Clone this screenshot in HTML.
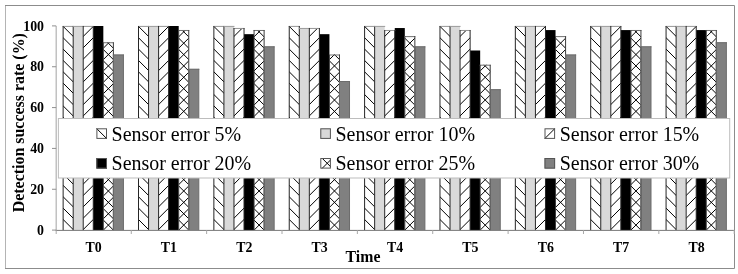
<!DOCTYPE html><html><head><meta charset="utf-8"><title>chart</title><style>html,body{margin:0;padding:0;background:#fff}svg{display:block}text{font-family:"Liberation Serif",serif;fill:#000}</style></head><body>
<svg width="738" height="274" viewBox="0 0 738 274">
<rect x="0" y="0" width="738" height="274" fill="#fff"/>
<path d="M5 5.5H734.5V268.5H5" fill="none" stroke="#8c8c8c" stroke-width="1"/><path d="M5.5 6V268" fill="none" stroke="#b4b4b4" stroke-width="1"/>
<rect x="63.14" y="26.00" width="10.05" height="204.20" fill="#fff"/>
<clipPath id="c1"><rect x="63.14" y="26.00" width="10.05" height="204.20"/></clipPath><g clip-path="url(#c1)" stroke="#000" stroke-width="1.0" fill="none"><path d="M61.14 228.86L75.19 242.91M61.14 217.50L75.19 231.55M61.14 206.14L75.19 220.19M61.14 194.78L75.19 208.83M61.14 183.42L75.19 197.47M61.14 172.06L75.19 186.11M61.14 160.70L75.19 174.75M61.14 149.34L75.19 163.39M61.14 137.98L75.19 152.03M61.14 126.62L75.19 140.67M61.14 115.26L75.19 129.31M61.14 103.90L75.19 117.95M61.14 92.54L75.19 106.59M61.14 81.18L75.19 95.23M61.14 69.82L75.19 83.87M61.14 58.46L75.19 72.51M61.14 47.10L75.19 61.15M61.14 35.74L75.19 49.79M61.14 24.38L75.19 38.43M61.14 13.02L75.19 27.07M61.14 1.66L75.19 15.71"/></g>
<rect x="73.19" y="26.00" width="10.05" height="204.20" fill="#d9d9d9"/>
<rect x="83.23" y="26.00" width="10.05" height="204.20" fill="#fff"/>
<clipPath id="c2"><rect x="83.23" y="26.00" width="10.05" height="204.20"/></clipPath><g clip-path="url(#c2)" stroke="#000" stroke-width="1.0" fill="none"><path d="M81.23 242.91L95.28 228.86M81.23 231.55L95.28 217.50M81.23 220.19L95.28 206.14M81.23 208.83L95.28 194.78M81.23 197.47L95.28 183.42M81.23 186.11L95.28 172.06M81.23 174.75L95.28 160.70M81.23 163.39L95.28 149.34M81.23 152.03L95.28 137.98M81.23 140.67L95.28 126.62M81.23 129.31L95.28 115.26M81.23 117.95L95.28 103.90M81.23 106.59L95.28 92.54M81.23 95.23L95.28 81.18M81.23 83.87L95.28 69.82M81.23 72.51L95.28 58.46M81.23 61.15L95.28 47.10M81.23 49.79L95.28 35.74M81.23 38.43L95.28 24.38M81.23 27.07L95.28 13.02M81.23 15.71L95.28 1.66"/></g>
<rect x="93.28" y="26.00" width="10.05" height="204.20" fill="#000"/>
<rect x="103.33" y="42.34" width="10.05" height="187.86" fill="#fff"/>
<clipPath id="c3"><rect x="103.33" y="42.34" width="10.05" height="187.86"/></clipPath><g clip-path="url(#c3)" stroke="#000" stroke-width="1.0" fill="none"><path d="M100.36 228.47L116.36 244.47M100.36 244.47L116.36 228.47M100.36 217.10L116.36 233.10M100.36 233.10L116.36 217.10M100.36 205.73L116.36 221.73M100.36 221.73L116.36 205.73M100.36 194.36L116.36 210.36M100.36 210.36L116.36 194.36M100.36 182.99L116.36 198.99M100.36 198.99L116.36 182.99M100.36 171.62L116.36 187.62M100.36 187.62L116.36 171.62M100.36 160.25L116.36 176.25M100.36 176.25L116.36 160.25M100.36 148.88L116.36 164.88M100.36 164.88L116.36 148.88M100.36 137.51L116.36 153.51M100.36 153.51L116.36 137.51M100.36 126.14L116.36 142.14M100.36 142.14L116.36 126.14M100.36 114.77L116.36 130.77M100.36 130.77L116.36 114.77M100.36 103.40L116.36 119.40M100.36 119.40L116.36 103.40M100.36 92.03L116.36 108.03M100.36 108.03L116.36 92.03M100.36 80.66L116.36 96.66M100.36 96.66L116.36 80.66M100.36 69.29L116.36 85.29M100.36 85.29L116.36 69.29M100.36 57.92L116.36 73.92M100.36 73.92L116.36 57.92M100.36 46.55L116.36 62.55M100.36 62.55L116.36 46.55M100.36 35.18L116.36 51.18M100.36 51.18L116.36 35.18M100.36 23.81L116.36 39.81M100.36 39.81L116.36 23.81"/></g>
<rect x="113.38" y="54.59" width="10.05" height="175.61" fill="#808080"/>
<rect x="138.50" y="26.00" width="10.05" height="204.20" fill="#fff"/>
<clipPath id="c4"><rect x="138.50" y="26.00" width="10.05" height="204.20"/></clipPath><g clip-path="url(#c4)" stroke="#000" stroke-width="1.0" fill="none"><path d="M136.50 228.86L150.55 242.91M136.50 217.50L150.55 231.55M136.50 206.14L150.55 220.19M136.50 194.78L150.55 208.83M136.50 183.42L150.55 197.47M136.50 172.06L150.55 186.11M136.50 160.70L150.55 174.75M136.50 149.34L150.55 163.39M136.50 137.98L150.55 152.03M136.50 126.62L150.55 140.67M136.50 115.26L150.55 129.31M136.50 103.90L150.55 117.95M136.50 92.54L150.55 106.59M136.50 81.18L150.55 95.23M136.50 69.82L150.55 83.87M136.50 58.46L150.55 72.51M136.50 47.10L150.55 61.15M136.50 35.74L150.55 49.79M136.50 24.38L150.55 38.43M136.50 13.02L150.55 27.07M136.50 1.66L150.55 15.71"/></g>
<rect x="148.55" y="26.00" width="10.05" height="204.20" fill="#d9d9d9"/>
<rect x="158.60" y="26.00" width="10.05" height="204.20" fill="#fff"/>
<clipPath id="c5"><rect x="158.60" y="26.00" width="10.05" height="204.20"/></clipPath><g clip-path="url(#c5)" stroke="#000" stroke-width="1.0" fill="none"><path d="M156.60 242.91L170.65 228.86M156.60 231.55L170.65 217.50M156.60 220.19L170.65 206.14M156.60 208.83L170.65 194.78M156.60 197.47L170.65 183.42M156.60 186.11L170.65 172.06M156.60 174.75L170.65 160.70M156.60 163.39L170.65 149.34M156.60 152.03L170.65 137.98M156.60 140.67L170.65 126.62M156.60 129.31L170.65 115.26M156.60 117.95L170.65 103.90M156.60 106.59L170.65 92.54M156.60 95.23L170.65 81.18M156.60 83.87L170.65 69.82M156.60 72.51L170.65 58.46M156.60 61.15L170.65 47.10M156.60 49.79L170.65 35.74M156.60 38.43L170.65 24.38M156.60 27.07L170.65 13.02M156.60 15.71L170.65 1.66"/></g>
<rect x="168.65" y="26.00" width="10.05" height="204.20" fill="#000"/>
<rect x="178.70" y="30.08" width="10.05" height="200.12" fill="#fff"/>
<clipPath id="c6"><rect x="178.70" y="30.08" width="10.05" height="200.12"/></clipPath><g clip-path="url(#c6)" stroke="#000" stroke-width="1.0" fill="none"><path d="M175.72 228.47L191.72 244.47M175.72 244.47L191.72 228.47M175.72 217.10L191.72 233.10M175.72 233.10L191.72 217.10M175.72 205.73L191.72 221.73M175.72 221.73L191.72 205.73M175.72 194.36L191.72 210.36M175.72 210.36L191.72 194.36M175.72 182.99L191.72 198.99M175.72 198.99L191.72 182.99M175.72 171.62L191.72 187.62M175.72 187.62L191.72 171.62M175.72 160.25L191.72 176.25M175.72 176.25L191.72 160.25M175.72 148.88L191.72 164.88M175.72 164.88L191.72 148.88M175.72 137.51L191.72 153.51M175.72 153.51L191.72 137.51M175.72 126.14L191.72 142.14M175.72 142.14L191.72 126.14M175.72 114.77L191.72 130.77M175.72 130.77L191.72 114.77M175.72 103.40L191.72 119.40M175.72 119.40L191.72 103.40M175.72 92.03L191.72 108.03M175.72 108.03L191.72 92.03M175.72 80.66L191.72 96.66M175.72 96.66L191.72 80.66M175.72 69.29L191.72 85.29M175.72 85.29L191.72 69.29M175.72 57.92L191.72 73.92M175.72 73.92L191.72 57.92M175.72 46.55L191.72 62.55M175.72 62.55L191.72 46.55M175.72 35.18L191.72 51.18M175.72 51.18L191.72 35.18M175.72 23.81L191.72 39.81M175.72 39.81L191.72 23.81M175.72 12.44L191.72 28.44M175.72 28.44L191.72 12.44"/></g>
<rect x="188.75" y="68.88" width="10.05" height="161.32" fill="#808080"/>
<rect x="213.87" y="26.00" width="10.05" height="204.20" fill="#fff"/>
<clipPath id="c7"><rect x="213.87" y="26.00" width="10.05" height="204.20"/></clipPath><g clip-path="url(#c7)" stroke="#000" stroke-width="1.0" fill="none"><path d="M211.87 228.86L225.92 242.91M211.87 217.50L225.92 231.55M211.87 206.14L225.92 220.19M211.87 194.78L225.92 208.83M211.87 183.42L225.92 197.47M211.87 172.06L225.92 186.11M211.87 160.70L225.92 174.75M211.87 149.34L225.92 163.39M211.87 137.98L225.92 152.03M211.87 126.62L225.92 140.67M211.87 115.26L225.92 129.31M211.87 103.90L225.92 117.95M211.87 92.54L225.92 106.59M211.87 81.18L225.92 95.23M211.87 69.82L225.92 83.87M211.87 58.46L225.92 72.51M211.87 47.10L225.92 61.15M211.87 35.74L225.92 49.79M211.87 24.38L225.92 38.43M211.87 13.02L225.92 27.07M211.87 1.66L225.92 15.71"/></g>
<rect x="223.92" y="26.00" width="10.05" height="204.20" fill="#d9d9d9"/>
<rect x="233.97" y="28.04" width="10.05" height="202.16" fill="#fff"/>
<clipPath id="c8"><rect x="233.97" y="28.04" width="10.05" height="202.16"/></clipPath><g clip-path="url(#c8)" stroke="#000" stroke-width="1.0" fill="none"><path d="M231.97 242.91L246.02 228.86M231.97 231.55L246.02 217.50M231.97 220.19L246.02 206.14M231.97 208.83L246.02 194.78M231.97 197.47L246.02 183.42M231.97 186.11L246.02 172.06M231.97 174.75L246.02 160.70M231.97 163.39L246.02 149.34M231.97 152.03L246.02 137.98M231.97 140.67L246.02 126.62M231.97 129.31L246.02 115.26M231.97 117.95L246.02 103.90M231.97 106.59L246.02 92.54M231.97 95.23L246.02 81.18M231.97 83.87L246.02 69.82M231.97 72.51L246.02 58.46M231.97 61.15L246.02 47.10M231.97 49.79L246.02 35.74M231.97 38.43L246.02 24.38M231.97 27.07L246.02 13.02M231.97 15.71L246.02 1.66"/></g>
<rect x="244.02" y="34.17" width="10.05" height="196.03" fill="#000"/>
<rect x="254.07" y="30.08" width="10.05" height="200.12" fill="#fff"/>
<clipPath id="c9"><rect x="254.07" y="30.08" width="10.05" height="200.12"/></clipPath><g clip-path="url(#c9)" stroke="#000" stroke-width="1.0" fill="none"><path d="M251.09 228.47L267.09 244.47M251.09 244.47L267.09 228.47M251.09 217.10L267.09 233.10M251.09 233.10L267.09 217.10M251.09 205.73L267.09 221.73M251.09 221.73L267.09 205.73M251.09 194.36L267.09 210.36M251.09 210.36L267.09 194.36M251.09 182.99L267.09 198.99M251.09 198.99L267.09 182.99M251.09 171.62L267.09 187.62M251.09 187.62L267.09 171.62M251.09 160.25L267.09 176.25M251.09 176.25L267.09 160.25M251.09 148.88L267.09 164.88M251.09 164.88L267.09 148.88M251.09 137.51L267.09 153.51M251.09 153.51L267.09 137.51M251.09 126.14L267.09 142.14M251.09 142.14L267.09 126.14M251.09 114.77L267.09 130.77M251.09 130.77L267.09 114.77M251.09 103.40L267.09 119.40M251.09 119.40L267.09 103.40M251.09 92.03L267.09 108.03M251.09 108.03L267.09 92.03M251.09 80.66L267.09 96.66M251.09 96.66L267.09 80.66M251.09 69.29L267.09 85.29M251.09 85.29L267.09 69.29M251.09 57.92L267.09 73.92M251.09 73.92L267.09 57.92M251.09 46.55L267.09 62.55M251.09 62.55L267.09 46.55M251.09 35.18L267.09 51.18M251.09 51.18L267.09 35.18M251.09 23.81L267.09 39.81M251.09 39.81L267.09 23.81M251.09 12.44L267.09 28.44M251.09 28.44L267.09 12.44"/></g>
<rect x="264.11" y="46.42" width="10.05" height="183.78" fill="#808080"/>
<rect x="289.24" y="26.00" width="10.05" height="204.20" fill="#fff"/>
<clipPath id="c10"><rect x="289.24" y="26.00" width="10.05" height="204.20"/></clipPath><g clip-path="url(#c10)" stroke="#000" stroke-width="1.0" fill="none"><path d="M287.24 228.86L301.29 242.91M287.24 217.50L301.29 231.55M287.24 206.14L301.29 220.19M287.24 194.78L301.29 208.83M287.24 183.42L301.29 197.47M287.24 172.06L301.29 186.11M287.24 160.70L301.29 174.75M287.24 149.34L301.29 163.39M287.24 137.98L301.29 152.03M287.24 126.62L301.29 140.67M287.24 115.26L301.29 129.31M287.24 103.90L301.29 117.95M287.24 92.54L301.29 106.59M287.24 81.18L301.29 95.23M287.24 69.82L301.29 83.87M287.24 58.46L301.29 72.51M287.24 47.10L301.29 61.15M287.24 35.74L301.29 49.79M287.24 24.38L301.29 38.43M287.24 13.02L301.29 27.07M287.24 1.66L301.29 15.71"/></g>
<rect x="299.29" y="28.04" width="10.05" height="202.16" fill="#d9d9d9"/>
<rect x="309.33" y="28.04" width="10.05" height="202.16" fill="#fff"/>
<clipPath id="c11"><rect x="309.33" y="28.04" width="10.05" height="202.16"/></clipPath><g clip-path="url(#c11)" stroke="#000" stroke-width="1.0" fill="none"><path d="M307.33 242.91L321.38 228.86M307.33 231.55L321.38 217.50M307.33 220.19L321.38 206.14M307.33 208.83L321.38 194.78M307.33 197.47L321.38 183.42M307.33 186.11L321.38 172.06M307.33 174.75L321.38 160.70M307.33 163.39L321.38 149.34M307.33 152.03L321.38 137.98M307.33 140.67L321.38 126.62M307.33 129.31L321.38 115.26M307.33 117.95L321.38 103.90M307.33 106.59L321.38 92.54M307.33 95.23L321.38 81.18M307.33 83.87L321.38 69.82M307.33 72.51L321.38 58.46M307.33 61.15L321.38 47.10M307.33 49.79L321.38 35.74M307.33 38.43L321.38 24.38M307.33 27.07L321.38 13.02M307.33 15.71L321.38 1.66"/></g>
<rect x="319.38" y="34.17" width="10.05" height="196.03" fill="#000"/>
<rect x="329.43" y="54.59" width="10.05" height="175.61" fill="#fff"/>
<clipPath id="c12"><rect x="329.43" y="54.59" width="10.05" height="175.61"/></clipPath><g clip-path="url(#c12)" stroke="#000" stroke-width="1.0" fill="none"><path d="M326.46 228.47L342.46 244.47M326.46 244.47L342.46 228.47M326.46 217.10L342.46 233.10M326.46 233.10L342.46 217.10M326.46 205.73L342.46 221.73M326.46 221.73L342.46 205.73M326.46 194.36L342.46 210.36M326.46 210.36L342.46 194.36M326.46 182.99L342.46 198.99M326.46 198.99L342.46 182.99M326.46 171.62L342.46 187.62M326.46 187.62L342.46 171.62M326.46 160.25L342.46 176.25M326.46 176.25L342.46 160.25M326.46 148.88L342.46 164.88M326.46 164.88L342.46 148.88M326.46 137.51L342.46 153.51M326.46 153.51L342.46 137.51M326.46 126.14L342.46 142.14M326.46 142.14L342.46 126.14M326.46 114.77L342.46 130.77M326.46 130.77L342.46 114.77M326.46 103.40L342.46 119.40M326.46 119.40L342.46 103.40M326.46 92.03L342.46 108.03M326.46 108.03L342.46 92.03M326.46 80.66L342.46 96.66M326.46 96.66L342.46 80.66M326.46 69.29L342.46 85.29M326.46 85.29L342.46 69.29M326.46 57.92L342.46 73.92M326.46 73.92L342.46 57.92M326.46 46.55L342.46 62.55M326.46 62.55L342.46 46.55M326.46 35.18L342.46 51.18M326.46 51.18L342.46 35.18"/></g>
<rect x="339.48" y="81.13" width="10.05" height="149.07" fill="#808080"/>
<rect x="364.60" y="26.00" width="10.05" height="204.20" fill="#fff"/>
<clipPath id="c13"><rect x="364.60" y="26.00" width="10.05" height="204.20"/></clipPath><g clip-path="url(#c13)" stroke="#000" stroke-width="1.0" fill="none"><path d="M362.60 228.86L376.65 242.91M362.60 217.50L376.65 231.55M362.60 206.14L376.65 220.19M362.60 194.78L376.65 208.83M362.60 183.42L376.65 197.47M362.60 172.06L376.65 186.11M362.60 160.70L376.65 174.75M362.60 149.34L376.65 163.39M362.60 137.98L376.65 152.03M362.60 126.62L376.65 140.67M362.60 115.26L376.65 129.31M362.60 103.90L376.65 117.95M362.60 92.54L376.65 106.59M362.60 81.18L376.65 95.23M362.60 69.82L376.65 83.87M362.60 58.46L376.65 72.51M362.60 47.10L376.65 61.15M362.60 35.74L376.65 49.79M362.60 24.38L376.65 38.43M362.60 13.02L376.65 27.07M362.60 1.66L376.65 15.71"/></g>
<rect x="374.65" y="26.00" width="10.05" height="204.20" fill="#d9d9d9"/>
<rect x="384.70" y="30.08" width="10.05" height="200.12" fill="#fff"/>
<clipPath id="c14"><rect x="384.70" y="30.08" width="10.05" height="200.12"/></clipPath><g clip-path="url(#c14)" stroke="#000" stroke-width="1.0" fill="none"><path d="M382.70 242.91L396.75 228.86M382.70 231.55L396.75 217.50M382.70 220.19L396.75 206.14M382.70 208.83L396.75 194.78M382.70 197.47L396.75 183.42M382.70 186.11L396.75 172.06M382.70 174.75L396.75 160.70M382.70 163.39L396.75 149.34M382.70 152.03L396.75 137.98M382.70 140.67L396.75 126.62M382.70 129.31L396.75 115.26M382.70 117.95L396.75 103.90M382.70 106.59L396.75 92.54M382.70 95.23L396.75 81.18M382.70 83.87L396.75 69.82M382.70 72.51L396.75 58.46M382.70 61.15L396.75 47.10M382.70 49.79L396.75 35.74M382.70 38.43L396.75 24.38M382.70 27.07L396.75 13.02M382.70 15.71L396.75 1.66"/></g>
<rect x="394.75" y="28.04" width="10.05" height="202.16" fill="#000"/>
<rect x="404.80" y="36.21" width="10.05" height="193.99" fill="#fff"/>
<clipPath id="c15"><rect x="404.80" y="36.21" width="10.05" height="193.99"/></clipPath><g clip-path="url(#c15)" stroke="#000" stroke-width="1.0" fill="none"><path d="M401.82 228.47L417.82 244.47M401.82 244.47L417.82 228.47M401.82 217.10L417.82 233.10M401.82 233.10L417.82 217.10M401.82 205.73L417.82 221.73M401.82 221.73L417.82 205.73M401.82 194.36L417.82 210.36M401.82 210.36L417.82 194.36M401.82 182.99L417.82 198.99M401.82 198.99L417.82 182.99M401.82 171.62L417.82 187.62M401.82 187.62L417.82 171.62M401.82 160.25L417.82 176.25M401.82 176.25L417.82 160.25M401.82 148.88L417.82 164.88M401.82 164.88L417.82 148.88M401.82 137.51L417.82 153.51M401.82 153.51L417.82 137.51M401.82 126.14L417.82 142.14M401.82 142.14L417.82 126.14M401.82 114.77L417.82 130.77M401.82 130.77L417.82 114.77M401.82 103.40L417.82 119.40M401.82 119.40L417.82 103.40M401.82 92.03L417.82 108.03M401.82 108.03L417.82 92.03M401.82 80.66L417.82 96.66M401.82 96.66L417.82 80.66M401.82 69.29L417.82 85.29M401.82 85.29L417.82 69.29M401.82 57.92L417.82 73.92M401.82 73.92L417.82 57.92M401.82 46.55L417.82 62.55M401.82 62.55L417.82 46.55M401.82 35.18L417.82 51.18M401.82 51.18L417.82 35.18M401.82 23.81L417.82 39.81M401.82 39.81L417.82 23.81M401.82 12.44L417.82 28.44M401.82 28.44L417.82 12.44"/></g>
<rect x="414.85" y="46.42" width="10.05" height="183.78" fill="#808080"/>
<rect x="439.97" y="26.00" width="10.05" height="204.20" fill="#fff"/>
<clipPath id="c16"><rect x="439.97" y="26.00" width="10.05" height="204.20"/></clipPath><g clip-path="url(#c16)" stroke="#000" stroke-width="1.0" fill="none"><path d="M437.97 228.86L452.02 242.91M437.97 217.50L452.02 231.55M437.97 206.14L452.02 220.19M437.97 194.78L452.02 208.83M437.97 183.42L452.02 197.47M437.97 172.06L452.02 186.11M437.97 160.70L452.02 174.75M437.97 149.34L452.02 163.39M437.97 137.98L452.02 152.03M437.97 126.62L452.02 140.67M437.97 115.26L452.02 129.31M437.97 103.90L452.02 117.95M437.97 92.54L452.02 106.59M437.97 81.18L452.02 95.23M437.97 69.82L452.02 83.87M437.97 58.46L452.02 72.51M437.97 47.10L452.02 61.15M437.97 35.74L452.02 49.79M437.97 24.38L452.02 38.43M437.97 13.02L452.02 27.07M437.97 1.66L452.02 15.71"/></g>
<rect x="450.02" y="26.00" width="10.05" height="204.20" fill="#d9d9d9"/>
<rect x="460.07" y="30.08" width="10.05" height="200.12" fill="#fff"/>
<clipPath id="c17"><rect x="460.07" y="30.08" width="10.05" height="200.12"/></clipPath><g clip-path="url(#c17)" stroke="#000" stroke-width="1.0" fill="none"><path d="M458.07 242.91L472.12 228.86M458.07 231.55L472.12 217.50M458.07 220.19L472.12 206.14M458.07 208.83L472.12 194.78M458.07 197.47L472.12 183.42M458.07 186.11L472.12 172.06M458.07 174.75L472.12 160.70M458.07 163.39L472.12 149.34M458.07 152.03L472.12 137.98M458.07 140.67L472.12 126.62M458.07 129.31L472.12 115.26M458.07 117.95L472.12 103.90M458.07 106.59L472.12 92.54M458.07 95.23L472.12 81.18M458.07 83.87L472.12 69.82M458.07 72.51L472.12 58.46M458.07 61.15L472.12 47.10M458.07 49.79L472.12 35.74M458.07 38.43L472.12 24.38M458.07 27.07L472.12 13.02M458.07 15.71L472.12 1.66"/></g>
<rect x="470.12" y="50.50" width="10.05" height="179.70" fill="#000"/>
<rect x="480.17" y="64.80" width="10.05" height="165.40" fill="#fff"/>
<clipPath id="c18"><rect x="480.17" y="64.80" width="10.05" height="165.40"/></clipPath><g clip-path="url(#c18)" stroke="#000" stroke-width="1.0" fill="none"><path d="M477.19 228.47L493.19 244.47M477.19 244.47L493.19 228.47M477.19 217.10L493.19 233.10M477.19 233.10L493.19 217.10M477.19 205.73L493.19 221.73M477.19 221.73L493.19 205.73M477.19 194.36L493.19 210.36M477.19 210.36L493.19 194.36M477.19 182.99L493.19 198.99M477.19 198.99L493.19 182.99M477.19 171.62L493.19 187.62M477.19 187.62L493.19 171.62M477.19 160.25L493.19 176.25M477.19 176.25L493.19 160.25M477.19 148.88L493.19 164.88M477.19 164.88L493.19 148.88M477.19 137.51L493.19 153.51M477.19 153.51L493.19 137.51M477.19 126.14L493.19 142.14M477.19 142.14L493.19 126.14M477.19 114.77L493.19 130.77M477.19 130.77L493.19 114.77M477.19 103.40L493.19 119.40M477.19 119.40L493.19 103.40M477.19 92.03L493.19 108.03M477.19 108.03L493.19 92.03M477.19 80.66L493.19 96.66M477.19 96.66L493.19 80.66M477.19 69.29L493.19 85.29M477.19 85.29L493.19 69.29M477.19 57.92L493.19 73.92M477.19 73.92L493.19 57.92M477.19 46.55L493.19 62.55M477.19 62.55L493.19 46.55"/></g>
<rect x="490.21" y="89.30" width="10.05" height="140.90" fill="#808080"/>
<rect x="515.34" y="26.00" width="10.05" height="204.20" fill="#fff"/>
<clipPath id="c19"><rect x="515.34" y="26.00" width="10.05" height="204.20"/></clipPath><g clip-path="url(#c19)" stroke="#000" stroke-width="1.0" fill="none"><path d="M513.34 228.86L527.39 242.91M513.34 217.50L527.39 231.55M513.34 206.14L527.39 220.19M513.34 194.78L527.39 208.83M513.34 183.42L527.39 197.47M513.34 172.06L527.39 186.11M513.34 160.70L527.39 174.75M513.34 149.34L527.39 163.39M513.34 137.98L527.39 152.03M513.34 126.62L527.39 140.67M513.34 115.26L527.39 129.31M513.34 103.90L527.39 117.95M513.34 92.54L527.39 106.59M513.34 81.18L527.39 95.23M513.34 69.82L527.39 83.87M513.34 58.46L527.39 72.51M513.34 47.10L527.39 61.15M513.34 35.74L527.39 49.79M513.34 24.38L527.39 38.43M513.34 13.02L527.39 27.07M513.34 1.66L527.39 15.71"/></g>
<rect x="525.39" y="26.00" width="10.05" height="204.20" fill="#d9d9d9"/>
<rect x="535.43" y="26.00" width="10.05" height="204.20" fill="#fff"/>
<clipPath id="c20"><rect x="535.43" y="26.00" width="10.05" height="204.20"/></clipPath><g clip-path="url(#c20)" stroke="#000" stroke-width="1.0" fill="none"><path d="M533.43 242.91L547.48 228.86M533.43 231.55L547.48 217.50M533.43 220.19L547.48 206.14M533.43 208.83L547.48 194.78M533.43 197.47L547.48 183.42M533.43 186.11L547.48 172.06M533.43 174.75L547.48 160.70M533.43 163.39L547.48 149.34M533.43 152.03L547.48 137.98M533.43 140.67L547.48 126.62M533.43 129.31L547.48 115.26M533.43 117.95L547.48 103.90M533.43 106.59L547.48 92.54M533.43 95.23L547.48 81.18M533.43 83.87L547.48 69.82M533.43 72.51L547.48 58.46M533.43 61.15L547.48 47.10M533.43 49.79L547.48 35.74M533.43 38.43L547.48 24.38M533.43 27.07L547.48 13.02M533.43 15.71L547.48 1.66"/></g>
<rect x="545.48" y="30.08" width="10.05" height="200.12" fill="#000"/>
<rect x="555.53" y="36.21" width="10.05" height="193.99" fill="#fff"/>
<clipPath id="c21"><rect x="555.53" y="36.21" width="10.05" height="193.99"/></clipPath><g clip-path="url(#c21)" stroke="#000" stroke-width="1.0" fill="none"><path d="M552.56 228.47L568.56 244.47M552.56 244.47L568.56 228.47M552.56 217.10L568.56 233.10M552.56 233.10L568.56 217.10M552.56 205.73L568.56 221.73M552.56 221.73L568.56 205.73M552.56 194.36L568.56 210.36M552.56 210.36L568.56 194.36M552.56 182.99L568.56 198.99M552.56 198.99L568.56 182.99M552.56 171.62L568.56 187.62M552.56 187.62L568.56 171.62M552.56 160.25L568.56 176.25M552.56 176.25L568.56 160.25M552.56 148.88L568.56 164.88M552.56 164.88L568.56 148.88M552.56 137.51L568.56 153.51M552.56 153.51L568.56 137.51M552.56 126.14L568.56 142.14M552.56 142.14L568.56 126.14M552.56 114.77L568.56 130.77M552.56 130.77L568.56 114.77M552.56 103.40L568.56 119.40M552.56 119.40L568.56 103.40M552.56 92.03L568.56 108.03M552.56 108.03L568.56 92.03M552.56 80.66L568.56 96.66M552.56 96.66L568.56 80.66M552.56 69.29L568.56 85.29M552.56 85.29L568.56 69.29M552.56 57.92L568.56 73.92M552.56 73.92L568.56 57.92M552.56 46.55L568.56 62.55M552.56 62.55L568.56 46.55M552.56 35.18L568.56 51.18M552.56 51.18L568.56 35.18M552.56 23.81L568.56 39.81M552.56 39.81L568.56 23.81M552.56 12.44L568.56 28.44M552.56 28.44L568.56 12.44"/></g>
<rect x="565.58" y="54.59" width="10.05" height="175.61" fill="#808080"/>
<rect x="590.70" y="26.00" width="10.05" height="204.20" fill="#fff"/>
<clipPath id="c22"><rect x="590.70" y="26.00" width="10.05" height="204.20"/></clipPath><g clip-path="url(#c22)" stroke="#000" stroke-width="1.0" fill="none"><path d="M588.70 228.86L602.75 242.91M588.70 217.50L602.75 231.55M588.70 206.14L602.75 220.19M588.70 194.78L602.75 208.83M588.70 183.42L602.75 197.47M588.70 172.06L602.75 186.11M588.70 160.70L602.75 174.75M588.70 149.34L602.75 163.39M588.70 137.98L602.75 152.03M588.70 126.62L602.75 140.67M588.70 115.26L602.75 129.31M588.70 103.90L602.75 117.95M588.70 92.54L602.75 106.59M588.70 81.18L602.75 95.23M588.70 69.82L602.75 83.87M588.70 58.46L602.75 72.51M588.70 47.10L602.75 61.15M588.70 35.74L602.75 49.79M588.70 24.38L602.75 38.43M588.70 13.02L602.75 27.07M588.70 1.66L602.75 15.71"/></g>
<rect x="600.75" y="26.00" width="10.05" height="204.20" fill="#d9d9d9"/>
<rect x="610.80" y="26.00" width="10.05" height="204.20" fill="#fff"/>
<clipPath id="c23"><rect x="610.80" y="26.00" width="10.05" height="204.20"/></clipPath><g clip-path="url(#c23)" stroke="#000" stroke-width="1.0" fill="none"><path d="M608.80 242.91L622.85 228.86M608.80 231.55L622.85 217.50M608.80 220.19L622.85 206.14M608.80 208.83L622.85 194.78M608.80 197.47L622.85 183.42M608.80 186.11L622.85 172.06M608.80 174.75L622.85 160.70M608.80 163.39L622.85 149.34M608.80 152.03L622.85 137.98M608.80 140.67L622.85 126.62M608.80 129.31L622.85 115.26M608.80 117.95L622.85 103.90M608.80 106.59L622.85 92.54M608.80 95.23L622.85 81.18M608.80 83.87L622.85 69.82M608.80 72.51L622.85 58.46M608.80 61.15L622.85 47.10M608.80 49.79L622.85 35.74M608.80 38.43L622.85 24.38M608.80 27.07L622.85 13.02M608.80 15.71L622.85 1.66"/></g>
<rect x="620.85" y="30.08" width="10.05" height="200.12" fill="#000"/>
<rect x="630.90" y="30.08" width="10.05" height="200.12" fill="#fff"/>
<clipPath id="c24"><rect x="630.90" y="30.08" width="10.05" height="200.12"/></clipPath><g clip-path="url(#c24)" stroke="#000" stroke-width="1.0" fill="none"><path d="M627.92 228.47L643.92 244.47M627.92 244.47L643.92 228.47M627.92 217.10L643.92 233.10M627.92 233.10L643.92 217.10M627.92 205.73L643.92 221.73M627.92 221.73L643.92 205.73M627.92 194.36L643.92 210.36M627.92 210.36L643.92 194.36M627.92 182.99L643.92 198.99M627.92 198.99L643.92 182.99M627.92 171.62L643.92 187.62M627.92 187.62L643.92 171.62M627.92 160.25L643.92 176.25M627.92 176.25L643.92 160.25M627.92 148.88L643.92 164.88M627.92 164.88L643.92 148.88M627.92 137.51L643.92 153.51M627.92 153.51L643.92 137.51M627.92 126.14L643.92 142.14M627.92 142.14L643.92 126.14M627.92 114.77L643.92 130.77M627.92 130.77L643.92 114.77M627.92 103.40L643.92 119.40M627.92 119.40L643.92 103.40M627.92 92.03L643.92 108.03M627.92 108.03L643.92 92.03M627.92 80.66L643.92 96.66M627.92 96.66L643.92 80.66M627.92 69.29L643.92 85.29M627.92 85.29L643.92 69.29M627.92 57.92L643.92 73.92M627.92 73.92L643.92 57.92M627.92 46.55L643.92 62.55M627.92 62.55L643.92 46.55M627.92 35.18L643.92 51.18M627.92 51.18L643.92 35.18M627.92 23.81L643.92 39.81M627.92 39.81L643.92 23.81M627.92 12.44L643.92 28.44M627.92 28.44L643.92 12.44"/></g>
<rect x="640.95" y="46.42" width="10.05" height="183.78" fill="#808080"/>
<rect x="666.07" y="26.00" width="10.05" height="204.20" fill="#fff"/>
<clipPath id="c25"><rect x="666.07" y="26.00" width="10.05" height="204.20"/></clipPath><g clip-path="url(#c25)" stroke="#000" stroke-width="1.0" fill="none"><path d="M664.07 228.86L678.12 242.91M664.07 217.50L678.12 231.55M664.07 206.14L678.12 220.19M664.07 194.78L678.12 208.83M664.07 183.42L678.12 197.47M664.07 172.06L678.12 186.11M664.07 160.70L678.12 174.75M664.07 149.34L678.12 163.39M664.07 137.98L678.12 152.03M664.07 126.62L678.12 140.67M664.07 115.26L678.12 129.31M664.07 103.90L678.12 117.95M664.07 92.54L678.12 106.59M664.07 81.18L678.12 95.23M664.07 69.82L678.12 83.87M664.07 58.46L678.12 72.51M664.07 47.10L678.12 61.15M664.07 35.74L678.12 49.79M664.07 24.38L678.12 38.43M664.07 13.02L678.12 27.07M664.07 1.66L678.12 15.71"/></g>
<rect x="676.12" y="26.00" width="10.05" height="204.20" fill="#d9d9d9"/>
<rect x="686.17" y="26.00" width="10.05" height="204.20" fill="#fff"/>
<clipPath id="c26"><rect x="686.17" y="26.00" width="10.05" height="204.20"/></clipPath><g clip-path="url(#c26)" stroke="#000" stroke-width="1.0" fill="none"><path d="M684.17 242.91L698.22 228.86M684.17 231.55L698.22 217.50M684.17 220.19L698.22 206.14M684.17 208.83L698.22 194.78M684.17 197.47L698.22 183.42M684.17 186.11L698.22 172.06M684.17 174.75L698.22 160.70M684.17 163.39L698.22 149.34M684.17 152.03L698.22 137.98M684.17 140.67L698.22 126.62M684.17 129.31L698.22 115.26M684.17 117.95L698.22 103.90M684.17 106.59L698.22 92.54M684.17 95.23L698.22 81.18M684.17 83.87L698.22 69.82M684.17 72.51L698.22 58.46M684.17 61.15L698.22 47.10M684.17 49.79L698.22 35.74M684.17 38.43L698.22 24.38M684.17 27.07L698.22 13.02M684.17 15.71L698.22 1.66"/></g>
<rect x="696.22" y="30.08" width="10.05" height="200.12" fill="#000"/>
<rect x="706.27" y="30.08" width="10.05" height="200.12" fill="#fff"/>
<clipPath id="c27"><rect x="706.27" y="30.08" width="10.05" height="200.12"/></clipPath><g clip-path="url(#c27)" stroke="#000" stroke-width="1.0" fill="none"><path d="M703.29 228.47L719.29 244.47M703.29 244.47L719.29 228.47M703.29 217.10L719.29 233.10M703.29 233.10L719.29 217.10M703.29 205.73L719.29 221.73M703.29 221.73L719.29 205.73M703.29 194.36L719.29 210.36M703.29 210.36L719.29 194.36M703.29 182.99L719.29 198.99M703.29 198.99L719.29 182.99M703.29 171.62L719.29 187.62M703.29 187.62L719.29 171.62M703.29 160.25L719.29 176.25M703.29 176.25L719.29 160.25M703.29 148.88L719.29 164.88M703.29 164.88L719.29 148.88M703.29 137.51L719.29 153.51M703.29 153.51L719.29 137.51M703.29 126.14L719.29 142.14M703.29 142.14L719.29 126.14M703.29 114.77L719.29 130.77M703.29 130.77L719.29 114.77M703.29 103.40L719.29 119.40M703.29 119.40L719.29 103.40M703.29 92.03L719.29 108.03M703.29 108.03L719.29 92.03M703.29 80.66L719.29 96.66M703.29 96.66L719.29 80.66M703.29 69.29L719.29 85.29M703.29 85.29L719.29 69.29M703.29 57.92L719.29 73.92M703.29 73.92L719.29 57.92M703.29 46.55L719.29 62.55M703.29 62.55L719.29 46.55M703.29 35.18L719.29 51.18M703.29 51.18L719.29 35.18M703.29 23.81L719.29 39.81M703.29 39.81L719.29 23.81M703.29 12.44L719.29 28.44M703.29 28.44L719.29 12.44"/></g>
<rect x="716.31" y="42.34" width="10.05" height="187.86" fill="#808080"/>
<path d="M62.64 26.40H73.69" fill="none" stroke="#959595" stroke-width="1"/>
<path d="M63.14 230.20V26.00M73.19 230.20V26.00" fill="none" stroke="#262626" stroke-width="1"/>
<path d="M72.69 26.40H83.73" fill="none" stroke="#9c9c9c" stroke-width="1"/>
<path d="M82.73 26.40H93.78" fill="none" stroke="#959595" stroke-width="1"/>
<path d="M83.23 230.20V26.00M93.28 230.20V26.00" fill="none" stroke="#262626" stroke-width="1"/>
<path d="M102.83 42.74H113.88" fill="none" stroke="#707070" stroke-width="1"/>
<path d="M103.33 230.20V42.34M113.38 230.20V42.34" fill="none" stroke="#3c3c3c" stroke-width="1"/>
<path d="M112.88 54.99H123.93" fill="none" stroke="#6c6c6c" stroke-width="1"/>
<path d="M113.38 230.20V54.59M123.43 230.20V54.59" fill="none" stroke="#6c6c6c" stroke-width="1"/>
<path d="M138.00 26.40H149.05" fill="none" stroke="#959595" stroke-width="1"/>
<path d="M138.50 230.20V26.00M148.55 230.20V26.00" fill="none" stroke="#262626" stroke-width="1"/>
<path d="M148.05 26.40H159.10" fill="none" stroke="#9c9c9c" stroke-width="1"/>
<path d="M158.10 26.40H169.15" fill="none" stroke="#959595" stroke-width="1"/>
<path d="M158.60 230.20V26.00M168.65 230.20V26.00" fill="none" stroke="#262626" stroke-width="1"/>
<path d="M178.20 30.48H189.25" fill="none" stroke="#707070" stroke-width="1"/>
<path d="M178.70 230.20V30.08M188.75 230.20V30.08" fill="none" stroke="#3c3c3c" stroke-width="1"/>
<path d="M188.25 69.28H199.30" fill="none" stroke="#6c6c6c" stroke-width="1"/>
<path d="M188.75 230.20V68.88M198.80 230.20V68.88" fill="none" stroke="#6c6c6c" stroke-width="1"/>
<path d="M213.37 26.40H224.42" fill="none" stroke="#959595" stroke-width="1"/>
<path d="M213.87 230.20V26.00M223.92 230.20V26.00" fill="none" stroke="#262626" stroke-width="1"/>
<path d="M223.42 26.40H234.47" fill="none" stroke="#9c9c9c" stroke-width="1"/>
<path d="M233.47 28.44H244.52" fill="none" stroke="#959595" stroke-width="1"/>
<path d="M233.97 230.20V28.04M244.02 230.20V28.04" fill="none" stroke="#262626" stroke-width="1"/>
<path d="M253.57 30.48H264.61" fill="none" stroke="#707070" stroke-width="1"/>
<path d="M254.07 230.20V30.08M264.11 230.20V30.08" fill="none" stroke="#3c3c3c" stroke-width="1"/>
<path d="M263.61 46.82H274.66" fill="none" stroke="#6c6c6c" stroke-width="1"/>
<path d="M264.11 230.20V46.42M274.16 230.20V46.42" fill="none" stroke="#6c6c6c" stroke-width="1"/>
<path d="M288.74 26.40H299.79" fill="none" stroke="#959595" stroke-width="1"/>
<path d="M289.24 230.20V26.00M299.29 230.20V26.00" fill="none" stroke="#262626" stroke-width="1"/>
<path d="M298.79 28.44H309.83" fill="none" stroke="#9c9c9c" stroke-width="1"/>
<path d="M308.83 28.44H319.88" fill="none" stroke="#959595" stroke-width="1"/>
<path d="M309.33 230.20V28.04M319.38 230.20V28.04" fill="none" stroke="#262626" stroke-width="1"/>
<path d="M328.93 54.99H339.98" fill="none" stroke="#707070" stroke-width="1"/>
<path d="M329.43 230.20V54.59M339.48 230.20V54.59" fill="none" stroke="#3c3c3c" stroke-width="1"/>
<path d="M338.98 81.53H350.03" fill="none" stroke="#6c6c6c" stroke-width="1"/>
<path d="M339.48 230.20V81.13M349.53 230.20V81.13" fill="none" stroke="#6c6c6c" stroke-width="1"/>
<path d="M364.10 26.40H375.15" fill="none" stroke="#959595" stroke-width="1"/>
<path d="M364.60 230.20V26.00M374.65 230.20V26.00" fill="none" stroke="#262626" stroke-width="1"/>
<path d="M374.15 26.40H385.20" fill="none" stroke="#9c9c9c" stroke-width="1"/>
<path d="M384.20 30.48H395.25" fill="none" stroke="#959595" stroke-width="1"/>
<path d="M384.70 230.20V30.08M394.75 230.20V30.08" fill="none" stroke="#262626" stroke-width="1"/>
<path d="M404.30 36.61H415.35" fill="none" stroke="#707070" stroke-width="1"/>
<path d="M404.80 230.20V36.21M414.85 230.20V36.21" fill="none" stroke="#3c3c3c" stroke-width="1"/>
<path d="M414.35 46.82H425.40" fill="none" stroke="#6c6c6c" stroke-width="1"/>
<path d="M414.85 230.20V46.42M424.90 230.20V46.42" fill="none" stroke="#6c6c6c" stroke-width="1"/>
<path d="M439.47 26.40H450.52" fill="none" stroke="#959595" stroke-width="1"/>
<path d="M439.97 230.20V26.00M450.02 230.20V26.00" fill="none" stroke="#262626" stroke-width="1"/>
<path d="M449.52 26.40H460.57" fill="none" stroke="#9c9c9c" stroke-width="1"/>
<path d="M459.57 30.48H470.62" fill="none" stroke="#959595" stroke-width="1"/>
<path d="M460.07 230.20V30.08M470.12 230.20V30.08" fill="none" stroke="#262626" stroke-width="1"/>
<path d="M479.67 65.20H490.71" fill="none" stroke="#707070" stroke-width="1"/>
<path d="M480.17 230.20V64.80M490.21 230.20V64.80" fill="none" stroke="#3c3c3c" stroke-width="1"/>
<path d="M489.71 89.70H500.76" fill="none" stroke="#6c6c6c" stroke-width="1"/>
<path d="M490.21 230.20V89.30M500.26 230.20V89.30" fill="none" stroke="#6c6c6c" stroke-width="1"/>
<path d="M514.84 26.40H525.89" fill="none" stroke="#959595" stroke-width="1"/>
<path d="M515.34 230.20V26.00M525.39 230.20V26.00" fill="none" stroke="#262626" stroke-width="1"/>
<path d="M524.89 26.40H535.93" fill="none" stroke="#9c9c9c" stroke-width="1"/>
<path d="M534.93 26.40H545.98" fill="none" stroke="#959595" stroke-width="1"/>
<path d="M535.43 230.20V26.00M545.48 230.20V26.00" fill="none" stroke="#262626" stroke-width="1"/>
<path d="M555.03 36.61H566.08" fill="none" stroke="#707070" stroke-width="1"/>
<path d="M555.53 230.20V36.21M565.58 230.20V36.21" fill="none" stroke="#3c3c3c" stroke-width="1"/>
<path d="M565.08 54.99H576.13" fill="none" stroke="#6c6c6c" stroke-width="1"/>
<path d="M565.58 230.20V54.59M575.63 230.20V54.59" fill="none" stroke="#6c6c6c" stroke-width="1"/>
<path d="M590.20 26.40H601.25" fill="none" stroke="#959595" stroke-width="1"/>
<path d="M590.70 230.20V26.00M600.75 230.20V26.00" fill="none" stroke="#262626" stroke-width="1"/>
<path d="M600.25 26.40H611.30" fill="none" stroke="#9c9c9c" stroke-width="1"/>
<path d="M610.30 26.40H621.35" fill="none" stroke="#959595" stroke-width="1"/>
<path d="M610.80 230.20V26.00M620.85 230.20V26.00" fill="none" stroke="#262626" stroke-width="1"/>
<path d="M630.40 30.48H641.45" fill="none" stroke="#707070" stroke-width="1"/>
<path d="M630.90 230.20V30.08M640.95 230.20V30.08" fill="none" stroke="#3c3c3c" stroke-width="1"/>
<path d="M640.45 46.82H651.50" fill="none" stroke="#6c6c6c" stroke-width="1"/>
<path d="M640.95 230.20V46.42M651.00 230.20V46.42" fill="none" stroke="#6c6c6c" stroke-width="1"/>
<path d="M665.57 26.40H676.62" fill="none" stroke="#959595" stroke-width="1"/>
<path d="M666.07 230.20V26.00M676.12 230.20V26.00" fill="none" stroke="#262626" stroke-width="1"/>
<path d="M675.62 26.40H686.67" fill="none" stroke="#9c9c9c" stroke-width="1"/>
<path d="M685.67 26.40H696.72" fill="none" stroke="#959595" stroke-width="1"/>
<path d="M686.17 230.20V26.00M696.22 230.20V26.00" fill="none" stroke="#262626" stroke-width="1"/>
<path d="M705.77 30.48H716.81" fill="none" stroke="#707070" stroke-width="1"/>
<path d="M706.27 230.20V30.08M716.31 230.20V30.08" fill="none" stroke="#3c3c3c" stroke-width="1"/>
<path d="M715.81 42.74H726.86" fill="none" stroke="#6c6c6c" stroke-width="1"/>
<path d="M716.31 230.20V42.34M726.36 230.20V42.34" fill="none" stroke="#6c6c6c" stroke-width="1"/>
<path d="M56.20 26.00V230.70" fill="none" stroke="#b8b8b8" stroke-width="1.3"/>
<path d="M55.60 230.40H733.90" fill="none" stroke="#787878" stroke-width="1"/>
<path d="M52.00 230.10H56.20M52.00 189.26H56.20M52.00 148.42H56.20M52.00 107.58H56.20M52.00 66.74H56.20M52.00 25.90H56.20" fill="none" stroke="#909090" stroke-width="1"/>
<path d="M56.20 230.20V234.00M131.27 230.20V234.00M206.63 230.20V234.00M282.00 230.20V234.00M357.37 230.20V234.00M432.73 230.20V234.00M508.10 230.20V234.00M583.47 230.20V234.00M658.83 230.20V234.00M734.20 230.20V234.00" fill="none" stroke="#a8a8a8" stroke-width="1"/>
<text x="44.0" y="234.70" font-size="13.85" font-weight="bold" text-anchor="end">0</text>
<text x="44.0" y="193.86" font-size="13.85" font-weight="bold" text-anchor="end">20</text>
<text x="44.0" y="153.02" font-size="13.85" font-weight="bold" text-anchor="end">40</text>
<text x="44.0" y="112.18" font-size="13.85" font-weight="bold" text-anchor="end">60</text>
<text x="44.0" y="71.34" font-size="13.85" font-weight="bold" text-anchor="end">80</text>
<text x="44.0" y="30.50" font-size="13.85" font-weight="bold" text-anchor="end">100</text>
<text x="93.58" y="251.8" font-size="13.85" font-weight="bold" text-anchor="middle">T0</text>
<text x="168.95" y="251.8" font-size="13.85" font-weight="bold" text-anchor="middle">T1</text>
<text x="244.32" y="251.8" font-size="13.85" font-weight="bold" text-anchor="middle">T2</text>
<text x="319.68" y="251.8" font-size="13.85" font-weight="bold" text-anchor="middle">T3</text>
<text x="395.05" y="251.8" font-size="13.85" font-weight="bold" text-anchor="middle">T4</text>
<text x="470.42" y="251.8" font-size="13.85" font-weight="bold" text-anchor="middle">T5</text>
<text x="545.78" y="251.8" font-size="13.85" font-weight="bold" text-anchor="middle">T6</text>
<text x="621.15" y="251.8" font-size="13.85" font-weight="bold" text-anchor="middle">T7</text>
<text x="696.52" y="251.8" font-size="13.85" font-weight="bold" text-anchor="middle">T8</text>
<text x="363" y="262.2" font-size="15.8" font-weight="bold" text-anchor="middle">Time</text>
<text transform="translate(23.7 122.7) rotate(-90)" font-size="15.95" font-weight="bold" text-anchor="middle">Detection success rate (%)</text>
<rect x="58.4" y="118.5" width="671.3" height="59.5" fill="#fff" stroke="#bdbdbd" stroke-width="1"/>
<rect x="96.40" y="128.30" width="10.6" height="10.6" fill="#fff"/>
<clipPath id="c28"><rect x="96.40" y="128.30" width="10.6" height="10.6"/></clipPath><g clip-path="url(#c28)" stroke="#000" stroke-width="1.0" fill="none">
<path d="M94.4 126.30000000000001L109.0 140.9"/>
</g>
<rect x="96.90" y="128.80" width="9.6" height="9.6" fill="none" stroke="#555" stroke-width="1"/>
<text x="111.60" y="140.55" font-size="19.95">Sensor error 5%</text>
<rect x="320.30" y="128.30" width="10.6" height="10.6" fill="#d9d9d9"/>
<rect x="320.80" y="128.80" width="9.6" height="9.6" fill="none" stroke="#555" stroke-width="1"/>
<text x="335.50" y="140.55" font-size="19.95">Sensor error 10%</text>
<rect x="544.50" y="128.30" width="10.6" height="10.6" fill="#fff"/>
<clipPath id="c29"><rect x="544.50" y="128.30" width="10.6" height="10.6"/></clipPath><g clip-path="url(#c29)" stroke="#000" stroke-width="1.0" fill="none">
<path d="M542.5 140.9L557.1 126.30000000000001"/>
</g>
<rect x="545.00" y="128.80" width="9.6" height="9.6" fill="none" stroke="#555" stroke-width="1"/>
<text x="559.70" y="140.55" font-size="19.95">Sensor error 15%</text>
<rect x="96.40" y="158.00" width="10.6" height="10.6" fill="#000"/>
<rect x="96.90" y="158.50" width="9.6" height="9.6" fill="none" stroke="#555" stroke-width="1"/>
<text x="111.60" y="170.25" font-size="19.95">Sensor error 20%</text>
<rect x="320.30" y="158.00" width="10.6" height="10.6" fill="#fff"/>
<clipPath id="c30"><rect x="320.30" y="158.00" width="10.6" height="10.6"/></clipPath><g clip-path="url(#c30)" stroke="#000" stroke-width="1.0" fill="none">
<path d="M318.2 154.3L336.2 172.3M318.2 172.3L336.2 154.3"/>
</g>
<rect x="320.80" y="158.50" width="9.6" height="9.6" fill="none" stroke="#555" stroke-width="1"/>
<text x="335.50" y="170.25" font-size="19.95">Sensor error 25%</text>
<rect x="544.50" y="158.00" width="10.6" height="10.6" fill="#808080"/>
<rect x="545.00" y="158.50" width="9.6" height="9.6" fill="none" stroke="#555" stroke-width="1"/>
<text x="559.70" y="170.25" font-size="19.95">Sensor error 30%</text>
</svg></body></html>
